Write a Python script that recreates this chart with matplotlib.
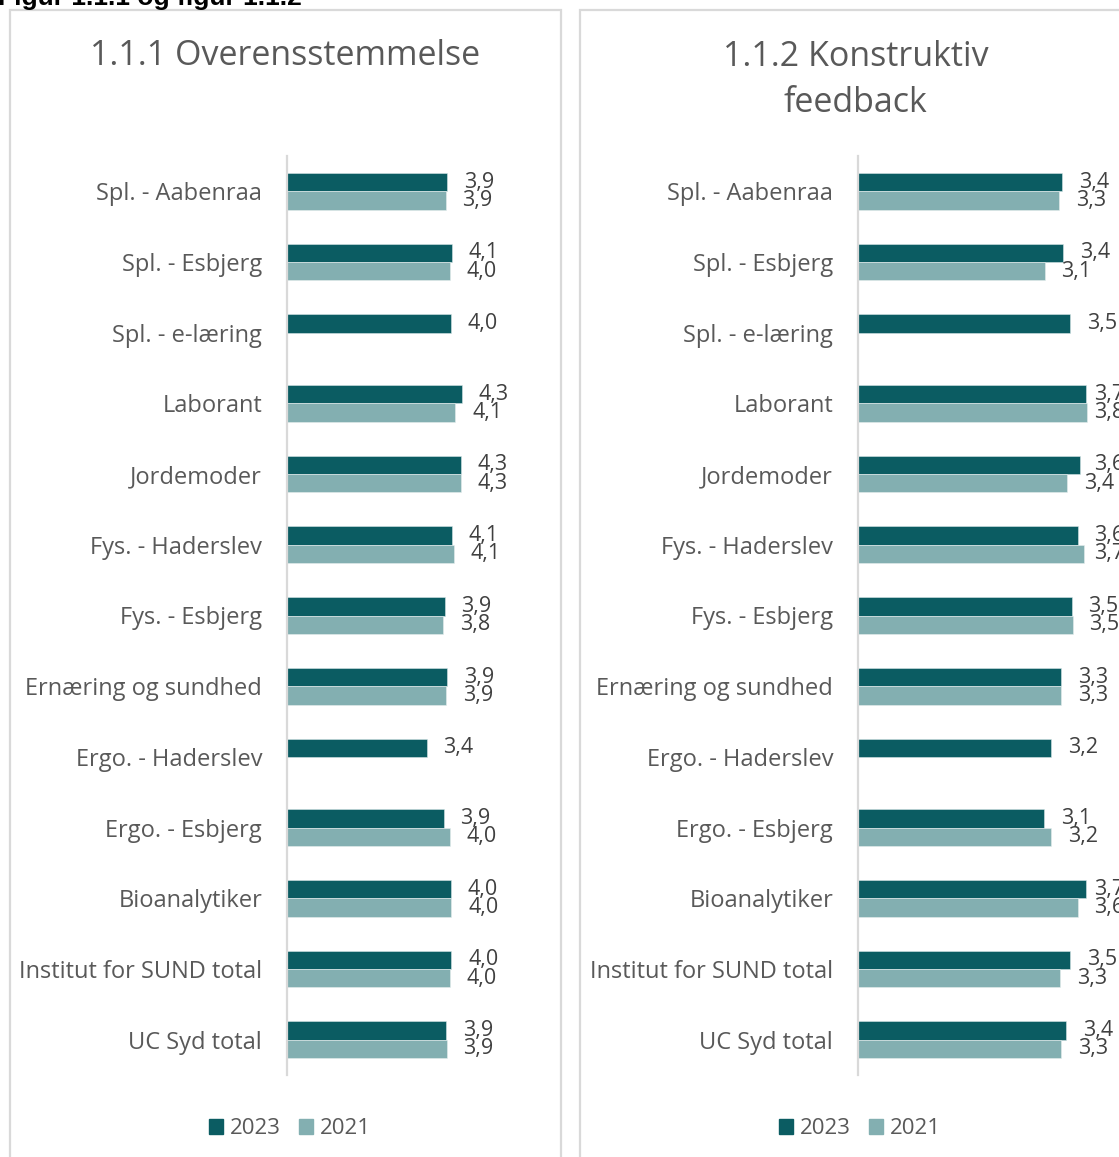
import matplotlib.pyplot as plt
import matplotlib as mpl
from matplotlib.patches import Rectangle, Patch
import numpy as np

# data
categories = ['Spl. - Aabenraa', 'Spl. - Esbjerg', 'Spl. - e-læring', 'Laborant',
              'Jordemoder', 'Fys. - Haderslev', 'Fys. - Esbjerg', 'Ernæring og sundhed',
              'Ergo. - Haderslev', 'Ergo. - Esbjerg', 'Bioanalytiker',
              'Institut for SUND total', 'UC Syd total']
series_names = ['2023', '2021']

overens_2023 = [3.94, 4.06, 4.02, 4.29, 4.28, 4.06, 3.88, 3.94, 3.44, 3.85, 4.03, 4.04, 3.92]
overens_2021 = [3.90, 4.01, np.nan, 4.14, 4.28, 4.11, 3.84, 3.91, np.nan, 4.01, 4.04, 4.01, 3.93]

feedback_2023 = [3.36, 3.37, 3.49, 3.74, 3.64, 3.61, 3.51, 3.34, 3.17, 3.06, 3.74, 3.49, 3.42]
feedback_2021 = [3.31, 3.07, np.nan, 3.76, 3.44, 3.71, 3.53, 3.34, np.nan, 3.17, 3.61, 3.32, 3.34]

titles = ['1.1.1 Overensstemmelse', '1.1.2 Konstruktiv\nfeedback']

c2023 = '#0b5c62'
c2021 = '#83afb1'
grey = '#595959'
border = '#d9d9d9'

mpl.rc('font', family=['Open Sans', 'DejaVu Sans'])

W, H = 1119, 1157
fig = plt.figure(figsize=(W / 100, H / 100), dpi=100)
value_texts = []  # (text, axes scale, right limit in px)


def px(x, y):
    # pixel (from top-left) -> figure fraction
    return x / W, 1 - y / H


def panel(x0, x_axis, x_right, scale, v2023, v2021, title, title_y, legend_x):
    # border of the chart box
    fig.patches.append(Rectangle(px(x0, H + 20), 551 / W, (H + 10) / H,
                                 transform=fig.transFigure, fill=False,
                                 edgecolor=border, linewidth=1.6))
    fig.text(*px(x0 + 275.5, title_y), title, ha='center', va='center',
             fontsize=24.5, color=grey, linespacing=1.48)

    top, bottom = 156, 1075
    ax = fig.add_axes([x_axis / W, 1 - bottom / H, (x_right - x_axis) / W, (bottom - top) / H])
    y = np.arange(len(categories))
    h = 0.26
    b1 = ax.barh(y - h / 2, v2023, height=h, color=c2023, edgecolor='#d8e6e7', linewidth=0.4)
    b2 = ax.barh(y + h / 2, v2021, height=h, color=c2021, edgecolor='#e6eeee', linewidth=0.4)
    for bars, vals in [(b1, v2023), (b2, v2021)]:
        for bar, v in zip(bars, vals):
            if np.isnan(v):
                continue
            t = ax.text(v + 16.7 / scale, bar.get_y() + bar.get_height() / 2,
                        f'{v:.1f}'.replace('.', ','), ha='left', va='center',
                        fontsize=15.5, color='#404040', clip_on=False)
            value_texts.append((t, scale, x0 + 544))

    ax.set_xlim(0, (x_right - x_axis) / scale)
    ax.set_ylim(len(categories) - 0.5, -0.5)
    ax.set_yticks(y)
    ax.set_yticklabels(categories, fontsize=17, color=grey)
    ax.tick_params(axis='y', length=0, pad=17.5)
    ax.set_xticks([])
    for s in ['top', 'right', 'bottom']:
        ax.spines[s].set_visible(False)
    ax.spines['left'].set_color(border)
    ax.spines['left'].set_linewidth(1.6)

    handles = [Patch(color=c2023), Patch(color=c2021)]
    fig.legend(handles, series_names, loc='center', bbox_to_anchor=px(legend_x, 1129),
               ncol=2, frameon=False, fontsize=16, labelcolor=grey,
               handlelength=0.62, handleheight=0.62, handletextpad=0.3,
               columnspacing=0.85)


panel(10, 286.5, 527, 40.8, overens_2023, overens_2021, titles[0], 56, 290)
panel(580, 857.5, 1100, 61.0, feedback_2023, feedback_2021, titles[1], 80, 860)

# figure caption, cut at the top edge
fig.text(-2 / W, 1 - 5 / H, 'Figur 1.1.1 og figur 1.1.2', ha='left', va='baseline',
         fontsize=19, fontweight='bold', family='Liberation Sans', color='black')

# keep data labels inside the chart box (labels near the edge get pushed left)
fig.canvas.draw()
r = fig.canvas.get_renderer()
for t, scale, limit in value_texts:
    bb = t.get_window_extent(r)
    if bb.x1 > limit:
        x, yy = t.get_position()
        t.set_position((x - (bb.x1 - limit) / scale, yy))

plt.savefig('out.png', dpi=100)
